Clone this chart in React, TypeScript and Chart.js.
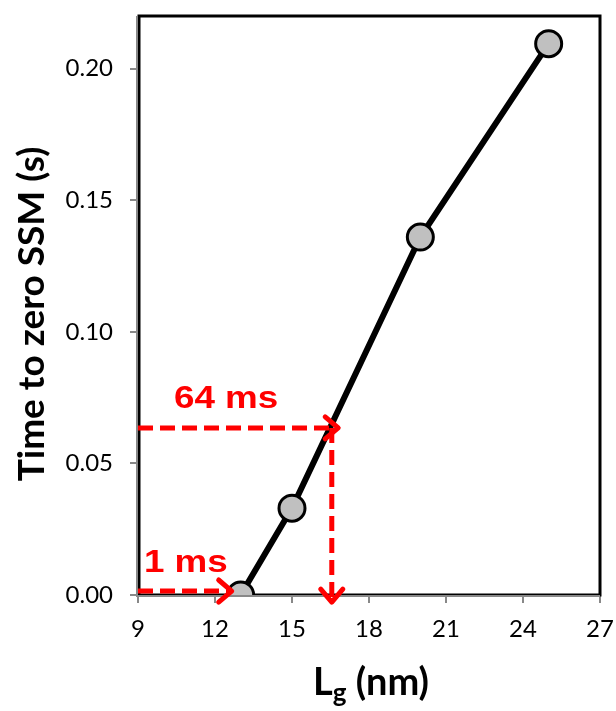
import React, { useEffect, useRef } from "react";
import { Chart, registerables } from "chart.js";

Chart.register(...registerables);

const lgValues = [13, 15, 20, 25];
const timeValues = [0.0, 0.033, 0.136, 0.2095];
const xTicks = [9, 12, 15, 18, 21, 24, 27];
const yTicks = [0, 0.05, 0.1, 0.15, 0.2];

// annotation arrows in data coordinates
const arrow64 = { x0: 9, x1: 16.8, xv: 16.55, y: 0.0635, yEnd: -0.0027 };
const arrow1 = { x0: 9, x1: 12.65, y: 0.0015 };
const label64 = { text: "64 ms", x: 10.4, y: 0.0712 };
const label1 = { text: "1 ms", x: 9.23, y: 0.0087 };

const tickFont = "Lato, 'Open Sans', sans-serif";
const redColor = "#ff0000";

function arrowHead(ctx: CanvasRenderingContext2D, x: number, y: number, dir: "right" | "down") {
  const s = 13;
  ctx.beginPath();
  if (dir === "right") {
    ctx.moveTo(x - s, y - s * 0.85);
    ctx.lineTo(x, y);
    ctx.lineTo(x - s, y + s * 0.85);
  } else {
    ctx.moveTo(x - s * 0.85, y - s);
    ctx.lineTo(x, y);
    ctx.lineTo(x + s * 0.85, y - s);
  }
  ctx.stroke();
}

const framePlugin = {
  id: "framePlugin",
  beforeDatasetsDraw(chart: any) {
    const { ctx, chartArea: a } = chart;
    ctx.save();
    ctx.strokeStyle = "#000";
    ctx.lineWidth = 3;
    ctx.strokeRect(a.left + 1, a.top, a.right - a.left - 1, a.bottom - a.top);
    ctx.strokeStyle = "#888";
    ctx.lineWidth = 2;
    ctx.beginPath();
    ctx.moveTo(a.left - 1, a.top);
    ctx.lineTo(a.left - 1, a.bottom + 1);
    ctx.lineTo(a.right, a.bottom + 1);
    ctx.stroke();
    ctx.restore();
  },
  afterDatasetsDraw(chart: any) {
    const { ctx, scales } = chart;
    const xs = scales.x;
    const ys = scales.y;
    ctx.save();
    ctx.strokeStyle = redColor;
    ctx.lineWidth = 5;
    ctx.lineCap = "butt";
    ctx.setLineDash([15, 7]);
    const hx0 = xs.getPixelForValue(arrow64.x0);
    const hx1 = xs.getPixelForValue(arrow64.x1);
    const hy = ys.getPixelForValue(arrow64.y);
    ctx.beginPath();
    ctx.moveTo(hx0, hy);
    ctx.lineTo(hx1 - 3, hy);
    ctx.stroke();
    const vx = xs.getPixelForValue(arrow64.xv);
    const vy1 = ys.getPixelForValue(arrow64.yEnd);
    ctx.beginPath();
    ctx.moveTo(vx, hy);
    ctx.lineTo(vx, vy1 - 3);
    ctx.stroke();
    const ax0 = xs.getPixelForValue(arrow1.x0);
    const ax1 = xs.getPixelForValue(arrow1.x1);
    const ay = ys.getPixelForValue(arrow1.y);
    ctx.beginPath();
    ctx.moveTo(ax0, ay);
    ctx.lineTo(ax1 - 3, ay);
    ctx.stroke();
    ctx.setLineDash([]);
    ctx.lineCap = "round";
    ctx.lineJoin = "round";
    arrowHead(ctx, hx1, hy, "right");
    arrowHead(ctx, vx, vy1, "down");
    arrowHead(ctx, ax1, ay, "right");
    ctx.fillStyle = redColor;
    ctx.font = "bold 32px 'Liberation Sans', Arial, sans-serif";
    ctx.textBaseline = "alphabetic";
    ctx.textAlign = "left";
    const drawStretched = (t: string, x: number, y: number) => {
      ctx.save();
      ctx.translate(x, y);
      ctx.scale(1.15, 1);
      ctx.fillText(t, 0, 0);
      ctx.restore();
    };
    drawStretched(label64.text, xs.getPixelForValue(label64.x), ys.getPixelForValue(label64.y));
    drawStretched(label1.text, xs.getPixelForValue(label1.x), ys.getPixelForValue(label1.y));
    ctx.restore();
  },
  afterDraw(chart: any) {
    const { ctx } = chart;
    ctx.save();
    ctx.fillStyle = "#000";
    ctx.font = "bold 37px Lato, 'Open Sans', sans-serif";
    ctx.textAlign = "center";
    ctx.textBaseline = "middle";
    ctx.translate(32, 314);
    ctx.rotate(-Math.PI / 2);
    ctx.fillText("Time to zero SSM (s)", 0, 0);
    ctx.restore();
    ctx.save();
    ctx.fillStyle = "#000";
    ctx.textBaseline = "alphabetic";
    const big = "bold 38px Lato, 'Open Sans', sans-serif";
    const small = "bold 26px Lato, 'Open Sans', sans-serif";
    ctx.font = big;
    const wL = ctx.measureText("L").width;
    const wRest = ctx.measureText(" (nm)").width;
    ctx.font = small;
    const wg = ctx.measureText("g").width;
    const total = wL + wg + wRest;
    const cx = 371;
    let x = cx - total / 2;
    const base = 695;
    ctx.font = big;
    ctx.textAlign = "left";
    ctx.fillText("L", x, base);
    x += wL;
    ctx.font = small;
    ctx.fillText("g", x, base + 7);
    x += wg;
    ctx.font = big;
    ctx.fillText(" (nm)", x, base);
    ctx.restore();
  },
};

export default function App() {
  const ref = useRef<HTMLCanvasElement | null>(null);
  useEffect(() => {
    if (!ref.current) return;
    const chart = new Chart(ref.current, {
      type: "scatter",
      data: {
        datasets: [
          {
            data: lgValues.map((x, i) => ({ x, y: timeValues[i] })),
            showLine: true,
            borderColor: "#000",
            borderWidth: 6,
            pointRadius: 13,
            pointBackgroundColor: "#c0c0c0",
            pointBorderColor: "#000",
            pointBorderWidth: 3,
          },
        ],
      },
      options: {
        animation: false,
        responsive: false,
        devicePixelRatio: 1,
        layout: { padding: { top: 13, right: 14, left: 0, bottom: 0 } },
        plugins: { legend: { display: false }, tooltip: { enabled: false } },
        scales: {
          x: {
            type: "linear",
            min: 9,
            max: 27,
            afterBuildTicks: (s: any) => {
              s.ticks = xTicks.map((v) => ({ value: v }));
            },
            afterFit: (s: any) => {
              s.height = 116;
              s.paddingLeft = 0;
              s.paddingRight = 0;
            },
            ticks: {
              font: { family: tickFont, size: 24 },
              color: "#000",
              padding: 12,
              maxRotation: 0,
            },
            grid: { drawOnChartArea: false, drawTicks: true, tickLength: 8, color: "#888", lineWidth: 2 },
            border: { display: false },
          },
          y: {
            type: "linear",
            min: 0,
            max: 0.22,
            afterBuildTicks: (s: any) => {
              s.ticks = yTicks.map((v) => ({ value: v }));
            },
            afterFit: (s: any) => {
              s.width = 138;
              s.paddingTop = 0;
              s.paddingBottom = 0;
            },
            ticks: {
              font: { family: tickFont, size: 24 },
              color: "#000",
              padding: 17,
              callback: (v: any) => Number(v).toFixed(2),
            },
            grid: { drawOnChartArea: false, drawTicks: true, tickLength: 8, color: "#888", lineWidth: 2 },
            border: { display: false },
          },
        },
      },
      plugins: [framePlugin],
    } as any);
    return () => chart.destroy();
  }, []);
  return (
    <div style={{ position: "fixed", left: 0, top: 0, width: 616, height: 711, background: "#fff" }}>
      <canvas ref={ref} width={616} height={711} style={{ width: 616, height: 711 }} />
    </div>
  );
}
